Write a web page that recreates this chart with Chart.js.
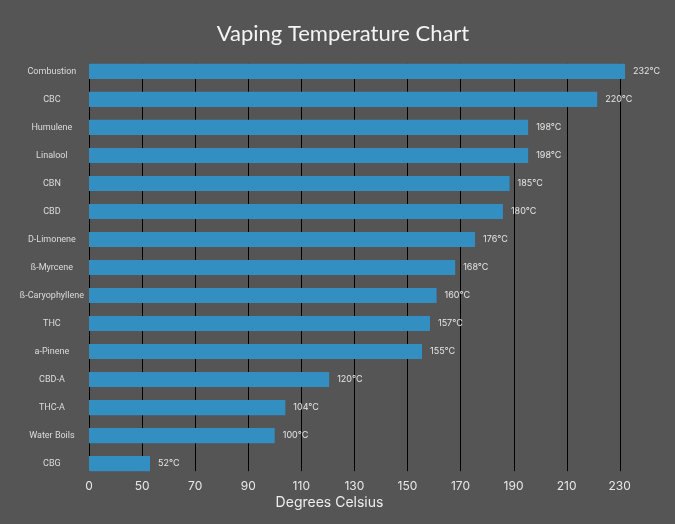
<!DOCTYPE html>
<html>
<head>
<meta charset="utf-8">
<script src="https://cdn.jsdelivr.net/npm/chart.js@4"></script>
<style>
  html, body { margin: 0; padding: 0; background: #555555; }
  #wrap { width: 675px; height: 524px; }
</style>
</head>
<body>
<div id="wrap"><canvas id="tempChart"></canvas></div>
<script>
const compounds = [
    'Combustion', 'CBC', 'Humulene', 'Linalool', 'CBN', 'CBD', 'D-Limonene',
    'ß-Myrcene', 'ß-Caryophyllene', 'THC', 'a-Pinene', 'CBD-A', 'THC-A',
    'Water Boils', 'CBG'
];
// bar lengths as drawn in the picture
const barValues = [232, 221.5, 195.5, 195.5, 188.5, 186, 175.5, 168, 161, 158.5, 155.5, 120.5, 104, 100, 53];
// temperatures printed next to the bars
const tempLabels = [232, 220, 198, 198, 185, 180, 176, 168, 160, 157, 155, 120, 104, 100, 52];
const tickValues = [30, 50, 70, 90, 110, 130, 150, 170, 190, 210, 230];
const tickLabels = ['0', '50', '70', '90', '110', '130', '150', '170', '190', '210', '230'];

const gridAndLabels = {
    id: 'gridAndLabels',
    beforeDatasetsDraw(chart) {
        const ctx = chart.ctx;
        const xs = chart.scales.x;
        const bars = chart.getDatasetMeta(0).data;
        const top = bars[0].y - bars[0].height / 2;
        const last = bars[bars.length - 1];
        const bottom = last.y + last.height / 2;
        ctx.save();
        ctx.strokeStyle = '#000000';
        ctx.lineWidth = 1;
        tickValues.forEach(v => {
            const px = Math.round(xs.getPixelForValue(v)) + 0.5;
            ctx.beginPath();
            ctx.moveTo(px, top);
            ctx.lineTo(px, bottom);
            ctx.stroke();
        });
        ctx.restore();
    },
    afterDatasetsDraw(chart) {
        const ctx = chart.ctx;
        const bars = chart.getDatasetMeta(0).data;
        ctx.save();
        ctx.font = '9px Inter';
        ctx.fillStyle = '#e6e6e6';
        ctx.textBaseline = 'middle';
        bars.forEach((bar, i) => {
            ctx.fillText(tempLabels[i] + '°C', bar.x + 8, bar.y);
        });
        ctx.restore();
    },
    afterDraw(chart) {
        const ctx = chart.ctx;
        ctx.save();
        ctx.font = '14px Inter';
        ctx.fillStyle = '#eeeeee';
        ctx.textAlign = 'center';
        ctx.textBaseline = 'middle';
        ctx.fillText('Degrees Celsius', chart.width / 2 - 8, 503);
        ctx.restore();
    }
};

const data = {
    labels: compounds,
    datasets: [{
        label: 'Temperature',
        data: barValues,
        backgroundColor: '#338ec2',
        barPercentage: 0.54,
        categoryPercentage: 1
    }]
};

const configChart = {
    type: 'bar',
    data: data,
    plugins: [gridAndLabels],
    options: {
        indexAxis: 'y',
        responsive: true,
        maintainAspectRatio: false,
        animation: false,
        layout: { padding: { left: 18, right: 7, top: 0, bottom: 28 } },
        plugins: {
            legend: { display: false },
            tooltip: { enabled: false },
            title: {
                display: true,
                text: 'Vaping Temperature Chart',
                color: '#f4f4f4',
                font: { family: 'Lato', size: 22, weight: 'normal' },
                padding: { top: 21, bottom: 10 }
            }
        },
        scales: {
            x: {
                type: 'linear',
                min: 30,
                max: 248.2,
                afterBuildTicks(axis) {
                    axis.ticks = tickValues.map(v => ({ value: v }));
                },
                grid: { display: false, drawTicks: false },
                border: { display: false },
                ticks: {
                    color: '#e8e8e8',
                    font: { family: 'Inter', size: 12 },
                    padding: 2,
                    callback: (value) => tickLabels[tickValues.indexOf(value)]
                }
            },
            y: {
                afterFit(axis) {
                    axis.width = 71;
                },
                grid: { display: false, drawTicks: false },
                border: { display: false },
                ticks: {
                    color: '#dddddd',
                    font: { family: 'Roboto', size: 9 },
                    padding: 5,
                    crossAlign: 'center',
                    autoSkip: false
                }
            }
        }
    }
};

let chart = new Chart(document.getElementById('tempChart'), configChart);
</script>
</body>
</html>
